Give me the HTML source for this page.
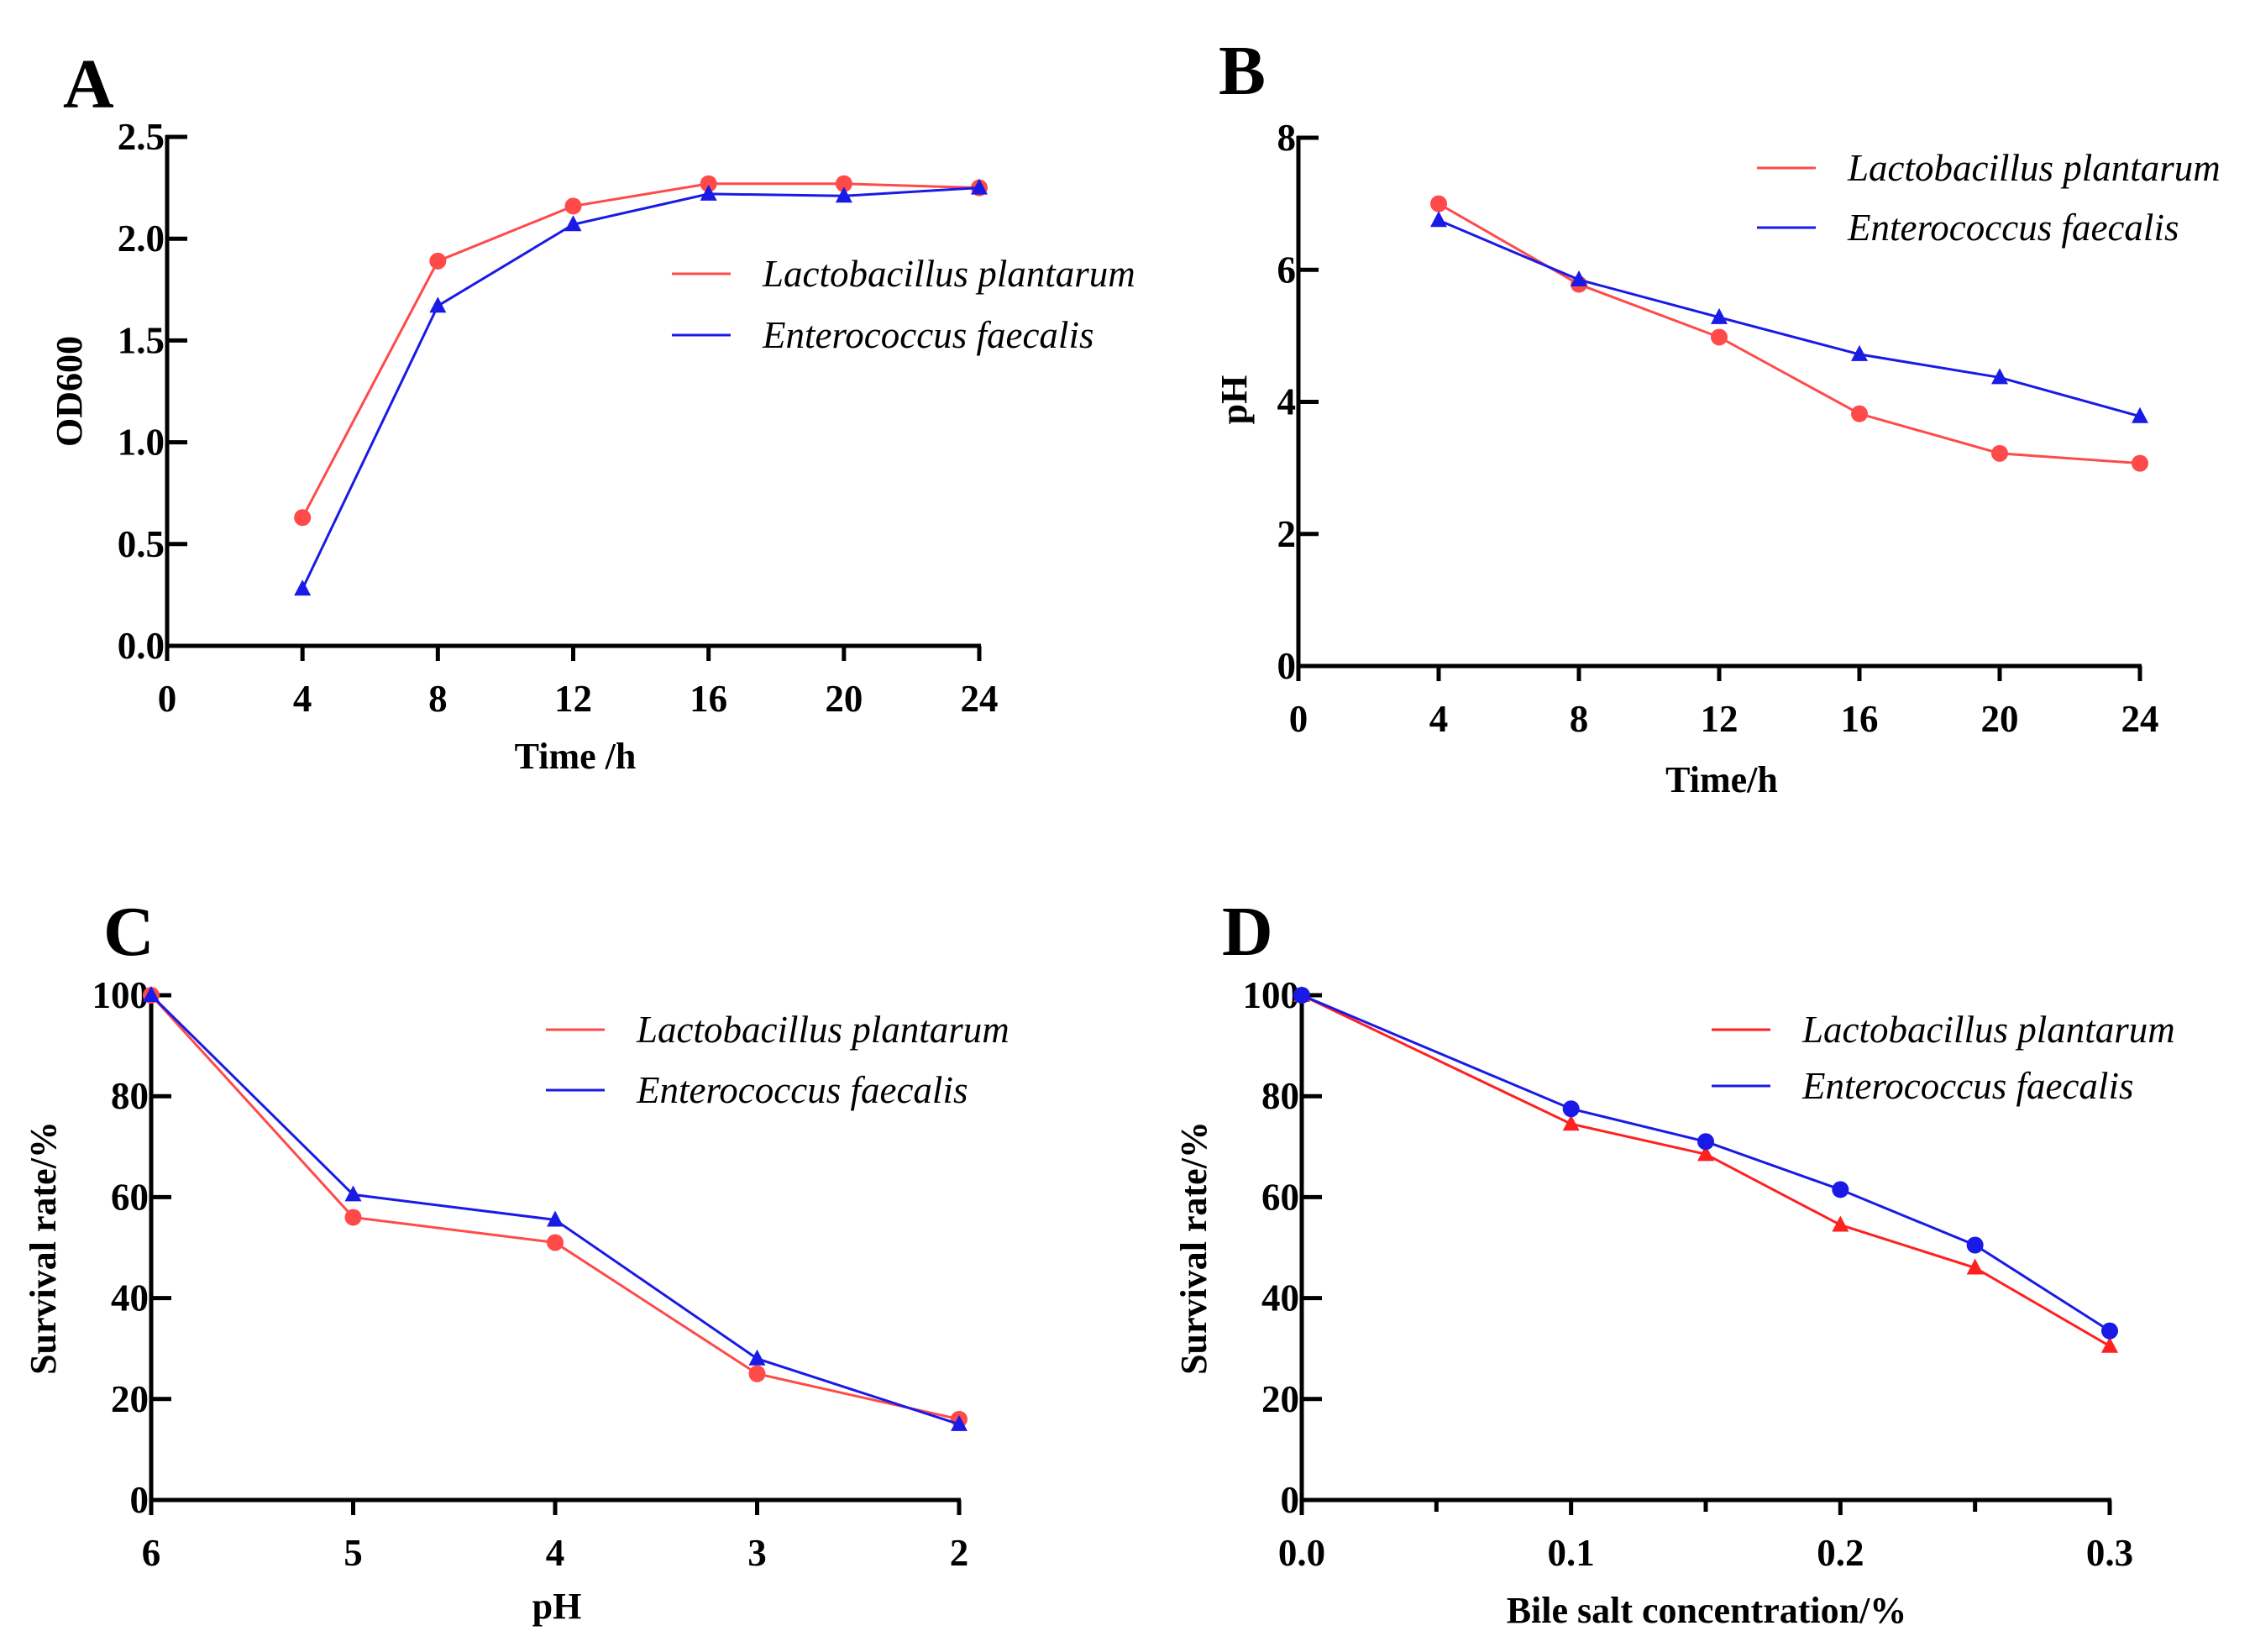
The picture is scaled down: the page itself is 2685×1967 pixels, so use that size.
<!DOCTYPE html>
<html><head><meta charset="utf-8">
<style>
html,body{margin:0;padding:0;background:#fff;}
svg{display:block;}
text{font-family:"Liberation Serif",serif;fill:#000;}
</style></head>
<body>
<svg id="fig" width="2685" height="1967" viewBox="0 0 2685 1967" xmlns="http://www.w3.org/2000/svg"></svg>
<script>
// Panel A data
const aX = [4,8,12,16,20,24];
const aLP = [0.63,1.89,2.16,2.27,2.27,2.25];
const aEF = [0.28,1.67,2.07,2.22,2.21,2.25];
const aXTicks = [0,4,8,12,16,20,24];
const aYTicks = [0,0.5,1.0,1.5,2.0,2.5];
// Panel B data
const bX = [4,8,12,16,20,24];
const bLP = [7.0,5.78,4.98,3.82,3.22,3.07];
const bEF = [6.75,5.85,5.28,4.72,4.37,3.78];
const bXTicks = [0,4,8,12,16,20,24];
const bYTicks = [0,2,4,6,8];
// Panel C data
const cX = [6,5,4,3,2];
const cLP = [100,56,51,25,16];
const cEF = [100,60.5,55.5,28,15];
const cXTicks = [6,5,4,3,2];
const cYTicks = [0,20,40,60,80,100];
// Panel D data
const dX = [0,0.1,0.15,0.2,0.25,0.3];
const dLP = [100,74.5,68.5,54.5,46,30.5];
const dEF = [100,77.5,71,61.5,50.5,33.5];
const dXTicks = [0,0.1,0.2,0.3];
const dXMinor = [0.05,0.15,0.25];
const dYTicks = [0,20,40,60,80,100];

const NS = "http://www.w3.org/2000/svg";
const svg = document.getElementById('fig');
const RED = "#ff4a4a", BLUE = "#1a1ae6";
function mk(tag, attrs, parent){
  const e = document.createElementNS(NS, tag);
  for (const k in attrs) e.setAttribute(k, attrs[k]);
  (parent||svg).appendChild(e);
  return e;
}
function txt(s, attrs, parent){ const t = mk('text', attrs, parent); t.textContent = s; return t; }

function panel(p){
  const g = mk('g', {});
  
  
  const sx = v => p.x0 + (v - p.xmin) / (p.xmax - p.xmin) * (p.x1 - p.x0);
  const sy = v => p.y0 - (v - p.ymin) / (p.ymax - p.ymin) * (p.y0 - p.y1);
  const L = txt(p.id, {x:p.lx, y:p.ly, 'font-size':84, 'font-weight':'bold'}, g);
  
  
  const ya = mk('line', {x1:p.x0, y1:p.y1-2, x2:p.x0, y2:p.y0+2, stroke:'#000','stroke-width':5}, g);
  
  
  const xa = mk('line', {x1:p.x0-2, y1:p.y0, x2:p.x1+2, y2:p.y0, stroke:'#000','stroke-width':5}, g);
  
  
  p.yt.forEach(v => {
    const y = sy(v);
    mk('line', {x1:p.x0-2, y1:y, x2:p.x0+24, y2:y, stroke:'#000','stroke-width':5}, g);
    const t = txt(p.yfmt(v), {x:p.x0-3, y:y+15, 'font-size':45, 'font-weight':'bold','text-anchor':'end'}, g);
    
    
  });
  p.xt.forEach(v => {
    const x = sx(v);
    mk('line', {x1:x, y1:p.y0, x2:x, y2:p.y0+18, stroke:'#000','stroke-width':5}, g);
    const t = txt(p.xfmt(v), {x:x, y:p.y0+78, 'font-size':45, 'font-weight':'bold','text-anchor':'middle'}, g);
    
    
  });
  (p.xm||[]).forEach(v => {
    const x = sx(v);
    mk('line', {x1:x, y1:p.y0, x2:x, y2:p.y0+14, stroke:'#000','stroke-width':5}, g);
  });
  const xt = txt(p.xtitle, {x:p.xtx, y:p.xty, 'font-size':44, 'font-weight':'bold','text-anchor':'middle'}, g);
  
  
  const yt = txt(p.ytitle, {x:0, y:0, 'font-size':44, 'font-weight':'bold','text-anchor':'middle', transform:`translate(${p.ytx},${p.yty}) rotate(-90)`}, g);
  
  
  p.series.forEach(s => {
    const pts = p.xs.map((v,i) => [sx(v), sy(s.vals[i])]);
    const pl = mk('polyline', {points: pts.map(q=>q.join(',')).join(' '), fill:'none', stroke:s.color, 'stroke-width':3}, g);
    
    
    pts.forEach(q => {
      let m;
      if (s.marker === 'circle') {
        m = mk('circle', {cx:q[0], cy:q[1], r:10, fill:s.color}, g);
      } else {
        m = mk('polygon', {points:`${q[0]},${q[1]-11} ${q[0]-10},${q[1]+8} ${q[0]+10},${q[1]+8}`, fill:s.color}, g);
      }
      
      
    });
  });
  p.series.forEach((s,i) => {
    const y = p.legy[i];
    const ll = mk('line', {x1:p.legx, y1:y, x2:p.legx+70, y2:y, stroke:s.color, 'stroke-width':3}, g);
    
    
    const lt = txt(s.label, {x:p.legx+108, y:y+15, 'font-size':45, 'font-style':'italic'}, g);
    
    
  });
}
const LPn = "Lactobacillus plantarum", EFn = "Enterococcus faecalis";
panel({id:'A', lx:75, ly:128, x0:199, x1:1166, xmin:0, xmax:24, y0:769, y1:163, ymin:0, ymax:2.5,
  xs:aX, xt:aXTicks, yt:aYTicks, xfmt:v=>String(v), yfmt:v=>v.toFixed(1),
  xtitle:'Time /h', xtx:685, xty:915, ytitle:'OD600', ytx:97, yty:466,
  legx:800, legy:[326,399],
  series:[{key:'lactobacillus',label:LPn,vals:aLP,color:RED,marker:'circle'},
          {key:'enterococcus',label:EFn,vals:aEF,color:BLUE,marker:'tri'}]});
panel({id:'B', lx:1451, ly:112, x0:1546, x1:2548, xmin:0, xmax:24, y0:793, y1:164, ymin:0, ymax:8,
  xs:bX, xt:bXTicks, yt:bYTicks, xfmt:v=>String(v), yfmt:v=>String(v),
  xtitle:'Time/h', xtx:2050, xty:943, ytitle:'pH', ytx:1484, yty:476,
  legx:2092, legy:[200,271],
  series:[{key:'lactobacillus',label:LPn,vals:bLP,color:RED,marker:'circle'},
          {key:'enterococcus',label:EFn,vals:bEF,color:BLUE,marker:'tri'}]});
panel({id:'C', lx:123, ly:1137, x0:180, x1:1142, xmin:6, xmax:2, y0:1786, y1:1185, ymin:0, ymax:100,
  xs:cX, xt:cXTicks, yt:cYTicks, xfmt:v=>String(v), yfmt:v=>String(v),
  xtitle:'pH', xtx:663, xty:1927, ytitle:'Survival rate/%', ytx:66, yty:1486,
  legx:650, legy:[1226,1298],
  series:[{key:'lactobacillus',label:LPn,vals:cLP,color:RED,marker:'circle'},
          {key:'enterococcus',label:EFn,vals:cEF,color:BLUE,marker:'tri'}]});
panel({id:'D', lx:1455, ly:1137, x0:1550, x1:2512, xmin:0, xmax:0.3, y0:1786, y1:1185, ymin:0, ymax:100,
  xs:dX, xt:dXTicks, xm:dXMinor, yt:dYTicks, xfmt:v=>v.toFixed(1), yfmt:v=>String(v),
  xtitle:'Bile salt concentration/%', xtx:2032, xty:1932, ytitle:'Survival rate/%', ytx:1436, yty:1486,
  legx:2038, legy:[1226,1293],
  series:[{key:'lactobacillus',label:LPn,vals:dLP,color:'#ff2020',marker:'tri'},
          {key:'enterococcus',label:EFn,vals:dEF,color:BLUE,marker:'circle'}]});
</script>
</body></html>
